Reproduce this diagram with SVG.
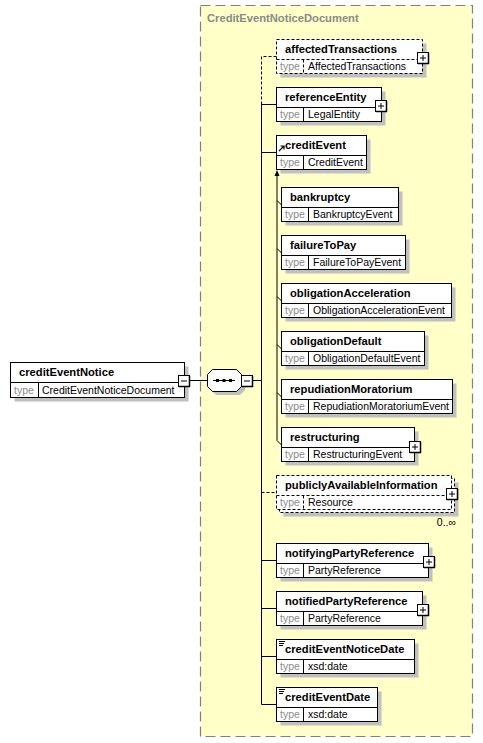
<svg xmlns="http://www.w3.org/2000/svg" width="483" height="743" viewBox="0 0 483 743">
<style>
.nm{font-family:"Liberation Sans",Arial,sans-serif;font-size:11.2px;font-weight:bold;fill:#000}
.tl{font-family:"Liberation Sans",Arial,sans-serif;font-size:10.5px;fill:#8c8c8c}
.tv{font-family:"Liberation Sans",Arial,sans-serif;font-size:10.5px;fill:#000}
.sh{fill:#c0c0c0}
.bx{fill:#fff;stroke:#000;stroke-width:1}
.dbx{fill:#fff;stroke:#000;stroke-width:1;stroke-dasharray:3,2}
.ln{stroke:#000;stroke-width:1;fill:none}
.dl{stroke:#000;stroke-width:1;fill:none;stroke-dasharray:3,2}
</style>
<defs>
<g id="plus">
<rect x="0.5" y="0.5" width="11" height="11" fill="#fff" stroke="#000"/>
<path d="M11.5,1 V12 M1,11.5 H12" stroke="#000" stroke-width="1.5"/>
<path d="M3,6 H9 M6,3 V9" stroke="#000" stroke-width="1"/>
</g>
<g id="minus">
<rect x="0.5" y="0.5" width="11" height="11" fill="#fff" stroke="#000"/>
<path d="M11.5,1 V12 M1,11.5 H12" stroke="#000" stroke-width="1.5"/>
<path d="M3,6 H9" stroke="#000" stroke-width="1"/>
</g>
<g id="simp">
<path d="M0,0.5 H6 M0,2.5 H5 M0,4.5 H4" stroke="#000" stroke-width="1"/>
</g>
</defs>

<!-- complex type container -->
<g id="CreditEventNoticeDocument">
<rect x="200.5" y="5.5" width="272" height="731" fill="#ffffc8" stroke="#808080" stroke-width="1.2" stroke-dasharray="10,5"/>
<text x="207" y="22" class="nm" style="fill:#8a8a8a">CreditEventNoticeDocument</text>
</g>

<!-- connectors -->
<g id="connectors">
<path class="ln" d="M190,380.5 H207"/>
<path class="ln" d="M253,380.5 H261.5"/>
<path class="dl" d="M276.5,56.5 H261.5 V104"/>
<path class="ln" d="M261.5,104 V704.5"/>
<path class="ln" d="M261.5,104.5 H276.5"/>
<path class="ln" d="M261.5,152.5 H276.5"/>
<path class="dl" d="M261.5,492.5 H276.5"/>
<path class="ln" d="M261.5,560.5 H276.5"/>
<path class="ln" d="M261.5,608.5 H276.5"/>
<path class="ln" d="M261.5,656.5 H276.5"/>
<path class="ln" d="M261.5,704.5 H276.5"/>
<path class="ln" d="M277,175 V440.5"/>
<path d="M277,170 L274.5,176 L279.5,176 Z" fill="#000"/>
<path class="ln" d="M277,200.5 L281.5,205 M277,248.5 L281.5,253 M277,296.5 L281.5,301 M277,344.5 L281.5,349 M277,392.5 L281.5,397 M277,440.5 L281.5,445"/>
</g>

<!-- root -->
<g id="creditEventNotice">
<rect x="14.5" y="366.5" width="174" height="35" class="sh"/>
<rect x="10.5" y="362.5" width="174" height="35" class="bx"/>
<path class="ln" d="M10.5,382.5 H184.5 M38.5,382.5 V397.5"/>
<text x="19" y="376" class="nm">creditEventNotice</text>
<text x="14" y="394" class="tl">type</text>
<text x="42" y="394" class="tv">CreditEventNoticeDocument</text>
<use href="#minus" x="178" y="375"/>
</g>

<!-- sequence -->
<g id="sequence">
<path d="M216,374 H240 L245,379 V390 L240,395 H216 L211,390 V379 Z" class="sh"/>
<path d="M212.5,369.5 H236.5 L241.5,374.5 V386.5 L236.5,391.5 H212.5 L207.5,386.5 V374.5 Z" class="bx"/>
<path class="ln" d="M213,380.5 H235"/>
<rect x="216" y="379" width="3" height="3" fill="#000"/>
<rect x="222.5" y="379" width="3" height="3" fill="#000"/>
<rect x="229" y="379" width="3" height="3" fill="#000"/>
<use href="#minus" x="241" y="375"/>
</g>

<g id="affectedTransactions">
<rect x="280.5" y="43.5" width="146" height="34" class="sh"/>
<rect x="276.5" y="39.5" width="146" height="34" class="dbx"/>
<path class="dl" d="M276.5,59.5 H422.5 M303.5,59.5 V73.5"/>
<text x="285" y="52.5" class="nm">affectedTransactions</text>
<text x="280" y="70" class="tl">type</text>
<text x="308" y="70" class="tv">AffectedTransactions</text>
<use href="#plus" x="417" y="52"/>
</g>

<g id="referenceEntity">
<rect x="280.5" y="91.5" width="105" height="34" class="sh"/>
<rect x="276.5" y="87.5" width="105" height="34" class="bx"/>
<path class="ln" d="M276.5,107.5 H381.5 M303.5,107.5 V121.5"/>
<text x="285" y="100.5" class="nm">referenceEntity</text>
<text x="280" y="118" class="tl">type</text>
<text x="308" y="118" class="tv">LegalEntity</text>
<use href="#plus" x="375" y="100"/>
</g>

<g id="creditEvent">
<rect x="280.5" y="139.5" width="90" height="34" class="sh"/>
<rect x="276.5" y="135.5" width="90" height="34" class="bx"/>
<path class="ln" d="M276.5,155.5 H366.5 M303.5,155.5 V169.5"/>
<path d="M279,151 L283.5,146.5 M280.5,146 H284 V149.5" stroke="#000" stroke-width="1.2" fill="none"/>
<text x="285" y="148.5" class="nm">creditEvent</text>
<text x="280" y="166" class="tl">type</text>
<text x="308" y="166" class="tv">CreditEvent</text>
</g>

<g id="bankruptcy">
<rect x="285.5" y="191.5" width="117" height="34" class="sh"/>
<rect x="281.5" y="187.5" width="117" height="34" class="bx"/>
<path class="ln" d="M281.5,207.5 H398.5 M308.5,207.5 V221.5"/>
<text x="290" y="200.5" class="nm">bankruptcy</text>
<text x="285" y="218" class="tl">type</text>
<text x="313" y="218" class="tv">BankruptcyEvent</text>
</g>

<g id="failureToPay">
<rect x="285.5" y="239.5" width="124" height="34" class="sh"/>
<rect x="281.5" y="235.5" width="124" height="34" class="bx"/>
<path class="ln" d="M281.5,255.5 H405.5 M308.5,255.5 V269.5"/>
<text x="290" y="248.5" class="nm">failureToPay</text>
<text x="285" y="266" class="tl">type</text>
<text x="313" y="266" class="tv">FailureToPayEvent</text>
</g>

<g id="obligationAcceleration">
<rect x="285.5" y="287.5" width="170" height="34" class="sh"/>
<rect x="281.5" y="283.5" width="170" height="34" class="bx"/>
<path class="ln" d="M281.5,303.5 H451.5 M308.5,303.5 V317.5"/>
<text x="290" y="296.5" class="nm">obligationAcceleration</text>
<text x="285" y="314" class="tl">type</text>
<text x="313" y="314" class="tv">ObligationAccelerationEvent</text>
</g>

<g id="obligationDefault">
<rect x="285.5" y="335.5" width="143" height="34" class="sh"/>
<rect x="281.5" y="331.5" width="143" height="34" class="bx"/>
<path class="ln" d="M281.5,351.5 H424.5 M308.5,351.5 V365.5"/>
<text x="290" y="344.5" class="nm">obligationDefault</text>
<text x="285" y="362" class="tl">type</text>
<text x="313" y="362" class="tv">ObligationDefaultEvent</text>
</g>

<g id="repudiationMoratorium">
<rect x="285.5" y="383.5" width="171" height="34" class="sh"/>
<rect x="281.5" y="379.5" width="171" height="34" class="bx"/>
<path class="ln" d="M281.5,399.5 H452.5 M308.5,399.5 V413.5"/>
<text x="290" y="392.5" class="nm">repudiationMoratorium</text>
<text x="285" y="410" class="tl">type</text>
<text x="313" y="410" class="tv">RepudiationMoratoriumEvent</text>
</g>

<g id="restructuring">
<rect x="285.5" y="431.5" width="133" height="34" class="sh"/>
<rect x="281.5" y="427.5" width="133" height="34" class="bx"/>
<path class="ln" d="M281.5,447.5 H414.5 M308.5,447.5 V461.5"/>
<text x="290" y="440.5" class="nm">restructuring</text>
<text x="285" y="458" class="tl">type</text>
<text x="313" y="458" class="tv">RestructuringEvent</text>
<use href="#plus" x="409" y="441"/>
</g>

<g id="publiclyAvailableInformation">
<rect x="283.5" y="482.5" width="175" height="34" class="sh"/>
<rect x="279.5" y="478.5" width="175" height="34" class="dbx"/>
<rect x="276.5" y="475.5" width="175" height="34" class="dbx"/>
<path class="dl" d="M276.5,495.5 H451.5 M303.5,495.5 V509.5"/>
<text x="285" y="488.5" class="nm">publiclyAvailableInformation</text>
<text x="280" y="506" class="tl">type</text>
<text x="308" y="506" class="tv">Resource</text>
<use href="#plus" x="446" y="488"/>
<text x="456" y="526" class="tv" text-anchor="end">0..∞</text>
</g>

<g id="notifyingPartyReference">
<rect x="280.5" y="547.5" width="152" height="34" class="sh"/>
<rect x="276.5" y="543.5" width="152" height="34" class="bx"/>
<path class="ln" d="M276.5,563.5 H428.5 M303.5,563.5 V577.5"/>
<text x="285" y="556.5" class="nm">notifyingPartyReference</text>
<text x="280" y="574" class="tl">type</text>
<text x="308" y="574" class="tv">PartyReference</text>
<use href="#plus" x="423" y="556"/>
</g>

<g id="notifiedPartyReference">
<rect x="280.5" y="595.5" width="146" height="34" class="sh"/>
<rect x="276.5" y="591.5" width="146" height="34" class="bx"/>
<path class="ln" d="M276.5,611.5 H422.5 M303.5,611.5 V625.5"/>
<text x="285" y="604.5" class="nm">notifiedPartyReference</text>
<text x="280" y="622" class="tl">type</text>
<text x="308" y="622" class="tv">PartyReference</text>
<use href="#plus" x="417" y="604"/>
</g>

<g id="creditEventNoticeDate">
<rect x="280.5" y="643.5" width="138" height="34" class="sh"/>
<rect x="276.5" y="639.5" width="138" height="34" class="bx"/>
<path class="ln" d="M276.5,659.5 H414.5 M303.5,659.5 V673.5"/>
<use href="#simp" x="279" y="641"/>
<text x="285" y="652.5" class="nm">creditEventNoticeDate</text>
<text x="280" y="670" class="tl">type</text>
<text x="308" y="670" class="tv">xsd:date</text>
</g>

<g id="creditEventDate">
<rect x="280.5" y="691.5" width="101" height="34" class="sh"/>
<rect x="276.5" y="687.5" width="101" height="34" class="bx"/>
<path class="ln" d="M276.5,707.5 H377.5 M303.5,707.5 V721.5"/>
<use href="#simp" x="279" y="689"/>
<text x="285" y="700.5" class="nm">creditEventDate</text>
<text x="280" y="718" class="tl">type</text>
<text x="308" y="718" class="tv">xsd:date</text>
</g>
</svg>
